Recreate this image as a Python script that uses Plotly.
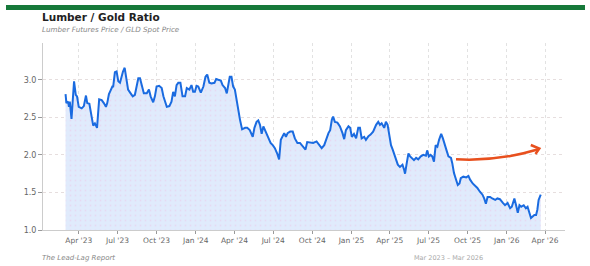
import pandas as pd
import plotly.graph_objects as go

start_date = "2023-03-01"
day_offsets = [
    0, 2, 6, 8, 10, 14, 20, 24, 27, 31, 38, 43, 48, 51, 56, 61, 65, 69, 74, 79,
    85, 90, 95, 98, 102, 106, 110, 112, 116, 120, 124, 128, 132, 135, 139, 143, 147, 153, 158, 163,
    167, 171, 175, 179, 184, 191, 196, 200, 206, 210, 214, 220, 226, 230, 238, 244, 249, 253, 257, 261,
    265, 270, 275, 281, 285, 291, 296, 300, 304, 308, 312, 318, 324, 329, 333, 338, 343, 350, 354, 359,
    365, 369, 375, 379, 382, 386, 390, 394, 398, 402, 406, 410, 415, 422, 427, 433, 440, 444, 449, 453,
    457, 461, 465, 469, 473, 479, 482, 487, 492, 498, 502, 506, 510, 514, 518, 522, 528, 534, 539, 545,
    551, 559, 564, 568, 575, 582, 590, 597, 602, 608, 612, 618, 622, 626, 629, 633, 639, 645, 651, 655,
    659, 665, 669, 673, 678, 683, 688, 692, 696, 702, 706, 712, 717, 723, 730, 735, 739, 743, 749, 753,
    757, 761, 765, 769, 773, 777, 781, 786, 792, 796, 798, 802, 806, 810, 814, 819, 824, 829, 835, 841,
    847, 850, 854, 858, 862, 866, 870, 874, 878, 883, 887, 891, 895, 900, 906, 909, 913, 918, 922, 926,
    929, 935, 942, 947, 951, 957, 963, 968, 974, 980, 984, 988, 992, 998, 1003, 1010, 1015, 1021, 1028, 1033,
    1039, 1045, 1049, 1055, 1059, 1063, 1067, 1071, 1077, 1082, 1086, 1090, 1094, 1098, 1102, 1106, 1109, 1112, 1117,
]
ratio = [
    2.81, 2.69, 2.71, 2.64, 2.71, 2.48, 2.98, 2.80, 2.78, 2.64, 2.62, 2.65, 2.79, 2.69, 2.68, 2.51, 2.39, 2.42, 2.36, 2.74,
    2.73, 2.69, 2.64, 2.69, 2.81, 2.86, 2.91, 2.91, 3.10, 3.11, 2.98, 2.96, 3.07, 3.11, 3.16, 3.00, 2.87, 2.82, 2.78, 2.80,
    2.91, 3.02, 3.02, 2.91, 2.82, 2.82, 2.87, 2.78, 2.70, 2.78, 2.91, 2.92, 2.89, 2.78, 2.64, 2.65, 2.71, 2.84, 2.78, 2.93,
    2.96, 2.96, 2.78, 2.78, 2.89, 2.87, 2.93, 2.84, 2.84, 2.92, 2.91, 2.83, 2.91, 3.04, 3.07, 2.96, 2.95, 2.96, 3.01, 3.00,
    2.99, 2.93, 2.89, 2.82, 2.91, 3.04, 3.04, 2.91, 2.87, 2.73, 2.60, 2.47, 2.34, 2.36, 2.36, 2.33, 2.24, 2.36, 2.44, 2.46,
    2.40, 2.28, 2.38, 2.33, 2.27, 2.20, 2.16, 2.13, 2.09, 2.01, 1.94, 2.20, 2.24, 2.29, 2.24, 2.29, 2.31, 2.31, 2.22, 2.16,
    2.16, 2.11, 2.07, 2.17, 2.16, 2.16, 2.18, 2.13, 2.09, 2.13, 2.20, 2.29, 2.33, 2.47, 2.51, 2.44, 2.43, 2.38, 2.29, 2.21,
    2.33, 2.38, 2.36, 2.24, 2.28, 2.22, 2.36, 2.36, 2.22, 2.24, 2.20, 2.25, 2.27, 2.31, 2.40, 2.44, 2.40, 2.42, 2.36, 2.44,
    2.40, 2.27, 2.13, 2.07, 2.00, 1.93, 1.87, 1.84, 1.87, 1.80, 1.75, 1.89, 2.02, 1.98, 1.96, 1.93, 1.96, 1.94, 1.98, 2.00,
    1.99, 2.06, 1.98, 2.00, 1.98, 1.91, 2.13, 2.11, 2.20, 2.28, 2.22, 2.13, 2.07, 1.98, 1.96, 1.89, 1.76, 1.67, 1.60, 1.62,
    1.69, 1.71, 1.70, 1.72, 1.67, 1.62, 1.59, 1.56, 1.51, 1.47, 1.42, 1.35, 1.44, 1.44, 1.42, 1.40, 1.42, 1.41, 1.36, 1.33,
    1.36, 1.29, 1.31, 1.42, 1.33, 1.23, 1.33, 1.31, 1.33, 1.29, 1.31, 1.22, 1.16, 1.18, 1.20, 1.20, 1.27, 1.40, 1.47,
]
dates = pd.to_datetime(start_date) + pd.to_timedelta(day_offsets, unit="D")

title_text = "Lumber / Gold Ratio"
subtitle_text = "Lumber Futures Price / GLD Spot Price"
source_text = "The Lead-Lag Report"
period_text = "Mar 2023 – Mar 2026"

FONT = "DejaVu Sans"
fig = go.Figure()
fig.add_trace(go.Scatter(
    x=dates, y=ratio, mode="lines",
    line=dict(color="#1a6be0", width=2),
    fill="tozeroy", fillcolor="rgba(224,235,252,1)",
    fillpattern=dict(shape=".", fgcolor="rgba(240,170,215,0.55)", bgcolor="rgba(224,235,252,1)", size=5, solidity=0.1),
    hoverinfo="skip", showlegend=False,
))

fig.update_layout(
    width=590, height=266,
    margin=dict(l=43, r=25, t=43, b=36),
    paper_bgcolor="white", plot_bgcolor="white",
    font=dict(family=FONT, color="#666666", size=8),
    xaxis=dict(
        type="date", range=["2023-01-07", "2026-05-18"],
        tick0="2023-01-01", dtick="M3", tickformat="%b '%y",
        showgrid=True, gridcolor="#e2e2e2", griddash="dot", gridwidth=1,
        showline=True, linecolor="#cccccc", linewidth=1,
        ticks="outside", ticklen=3, tickcolor="#999999",
        tickfont=dict(size=7.5, color="#666666"), zeroline=False,
    ),
    yaxis=dict(
        range=[1.0, 3.49], dtick=0.5, tick0=1.0, tickformat=".1f",
        showgrid=True, gridcolor="#e6dede", griddash="dot", gridwidth=1,
        showline=True, linecolor="#cccccc", linewidth=1,
        ticks="outside", ticklen=4, tickcolor="#999999",
        tickfont=dict(size=8, color="#666666"), zeroline=False,
    ),
)

def px(x):
    return (x - 43) / 522

def py(y):
    return (230 - y) / 187

# top green band
fig.add_shape(type="rect", xref="paper", yref="paper",
              x0=px(6), x1=px(585), y0=py(10), y1=py(5),
              fillcolor="#16793a", line=dict(width=0), layer="above")

# orange trend arrow
fig.add_shape(type="path", xref="paper", yref="paper",
              path=f"M {px(456)},{py(159.3)} Q {px(497)},{py(161.7)} {px(538.5)},{py(149.3)}",
              line=dict(color="#e8501e", width=2.5))
fig.add_shape(type="path", xref="paper", yref="paper",
              path=f"M {px(530.8)},{py(145)} L {px(539.3)},{py(148.6)} L {px(535.5)},{py(154)}",
              line=dict(color="#e8501e", width=2.5))

fig.add_annotation(xref="paper", yref="paper", x=px(40), y=py(17), xanchor="left", yanchor="middle",
                   text=f"<b>{title_text}</b>", showarrow=False,
                   font=dict(family=FONT, size=10.5, color="#222222"))
fig.add_annotation(xref="paper", yref="paper", x=px(40), y=py(30), xanchor="left", yanchor="middle",
                   text=f"<i>{subtitle_text}</i>", showarrow=False,
                   font=dict(family=FONT, size=7.2, color="#888888"))
fig.add_annotation(xref="paper", yref="paper", x=px(40), y=py(258), xanchor="left", yanchor="middle",
                   text=f"<i>{source_text}</i>", showarrow=False,
                   font=dict(family=FONT, size=7, color="#888888"))
fig.add_annotation(xref="paper", yref="paper", x=px(485), y=py(258), xanchor="right", yanchor="middle",
                   text=period_text, showarrow=False,
                   font=dict(family=FONT, size=6.5, color="#aaaaaa"))

fig.write_html("out.html")
